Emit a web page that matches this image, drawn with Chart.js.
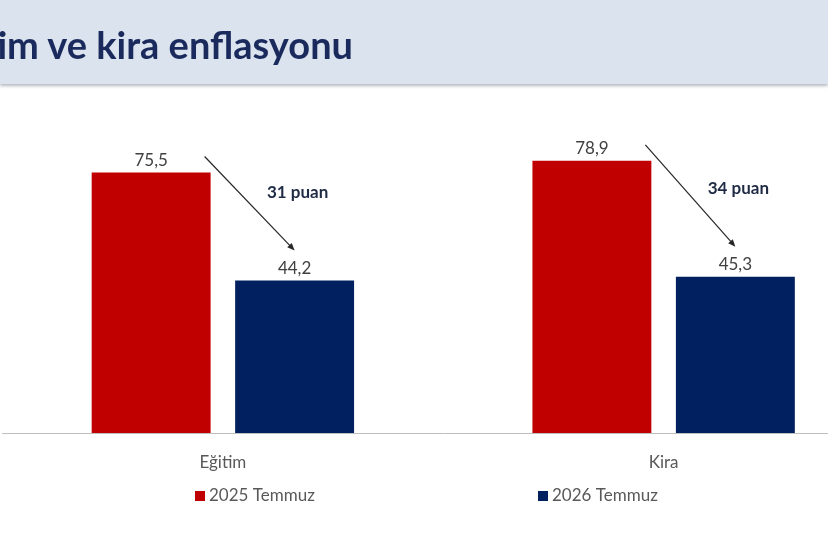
<!DOCTYPE html>
<html>
<head>
<meta charset="utf-8">
<script src="https://cdn.jsdelivr.net/npm/chart.js@4.4.1/dist/chart.umd.min.js"></script>
<style>
    html, body { margin: 0; padding: 0; background: #fff; overflow: hidden; }
    body { width: 828px; height: 552px; position: relative; }
    .header {
        position: absolute; left: 0; top: 0; width: 828px; height: 84px;
        background: #dae3ee; z-index: 2;
        box-shadow: 0 2px 3px rgba(120, 128, 140, 0.55);
    }
    .header span {
        position: absolute; right: 475px; top: 25px;
        font: bold 38px/38px Lato, sans-serif; color: #1b2a5c; white-space: nowrap;
    }
    .chart-box { position: absolute; left: 0; top: 0; width: 886px; height: 552px; }
</style>
</head>
<body>
<div class="header"><span>Eğitim ve kira enflasyonu</span></div>
<div class="chart-box"><canvas id="myChart"></canvas></div>
<script>
    const categories = ['Eğitim', 'Kira'];
    const seriesNames = ['2025 Temmuz', '2026 Temmuz'];
    const values2025 = [75.5, 78.9];
    const values2026 = [44.2, 45.3];
    const gapLabels = ['31 puan', '34 puan'];
    const seriesColors = ['#c00000', '#002060'];

    const fmt = v => v.toFixed(1).replace('.', ',');

    function drawArrow(ctx, x1, y1, x2, y2) {
        const ang = Math.atan2(y2 - y1, x2 - x1);
        ctx.beginPath();
        ctx.moveTo(x1, y1);
        ctx.lineTo(x2 - 5 * Math.cos(ang), y2 - 5 * Math.sin(ang));
        ctx.stroke();
        ctx.beginPath();
        ctx.moveTo(x2, y2);
        ctx.lineTo(x2 - 8 * Math.cos(ang - 0.4), y2 - 8 * Math.sin(ang - 0.4));
        ctx.lineTo(x2 - 8 * Math.cos(ang + 0.4), y2 - 8 * Math.sin(ang + 0.4));
        ctx.closePath();
        ctx.fill();
    }

    const annotate = {
        id: 'annotate',
        afterDatasetsDraw(chart) {
            const ctx = chart.ctx;
            ctx.save();

            // value labels
            ctx.font = '17px Lato';
            ctx.fillStyle = '#404040';
            ctx.textAlign = 'center';
            ctx.textBaseline = 'alphabetic';
            chart.data.datasets.forEach((ds, i) => {
                chart.getDatasetMeta(i).data.forEach((bar, j) => {
                    ctx.fillText(fmt(ds.data[j]), bar.x, bar.y - 7);
                });
            });

            // arrows + difference text
            const reds = chart.getDatasetMeta(0).data;
            const navys = chart.getDatasetMeta(1).data;
            ctx.strokeStyle = '#262626';
            ctx.fillStyle = '#262626';
            ctx.lineWidth = 1.2;
            reds.forEach((red, j) => {
                const navy = navys[j];
                drawArrow(ctx, red.x + red.width / 2 - 6, red.y - 16, navy.x, navy.y - 30);
            });
            ctx.font = 'bold 17px Lato';
            ctx.fillStyle = '#1f2a44';
            ctx.textBaseline = 'middle';
            navys.forEach((navy, j) => {
                ctx.fillText(gapLabels[j], navy.x + 3, navy.y - 88);
            });
            ctx.restore();
        }
    };

    const bottomLegend = {
        id: 'bottomLegend',
        afterDraw(chart) {
            const ctx = chart.ctx;
            const xs = [195, 538];
            const y = 496;
            ctx.save();
            ctx.font = '17px Lato';
            ctx.textBaseline = 'middle';
            ctx.textAlign = 'left';
            chart.data.datasets.forEach((ds, i) => {
                ctx.fillStyle = ds.backgroundColor;
                ctx.fillRect(xs[i], y - 5, 10, 10);
                ctx.fillStyle = '#595959';
                ctx.fillText(ds.label, xs[i] + 14, y);
            });
            ctx.restore();
        }
    };

    new Chart(document.getElementById('myChart'), {
        type: 'bar',
        data: {
            labels: categories,
            datasets: [
                { label: seriesNames[0], data: values2025, backgroundColor: seriesColors[0] },
                { label: seriesNames[1], data: values2026, backgroundColor: seriesColors[1] }
            ]
        },
        options: {
            responsive: true,
            maintainAspectRatio: false,
            animation: false,
            layout: { padding: { left: 2.5, right: 2, top: 122.5, bottom: 79 } },
            datasets: {
                bar: { categoryPercentage: 0.651, barPercentage: 0.829 }
            },
            scales: {
                x: {
                    grid: { display: false },
                    border: { display: true, color: '#bfbfbf', width: 1 },
                    ticks: { color: '#595959', font: { family: 'Lato', size: 17 }, padding: 11 },
                    afterFit(scale) { scale.height = 40; }
                },
                y: { display: false, min: 0, max: 90 }
            },
            plugins: {
                legend: { display: false },
                tooltip: { enabled: false }
            }
        },
        plugins: [annotate, bottomLegend]
    });
</script>
</body>
</html>
